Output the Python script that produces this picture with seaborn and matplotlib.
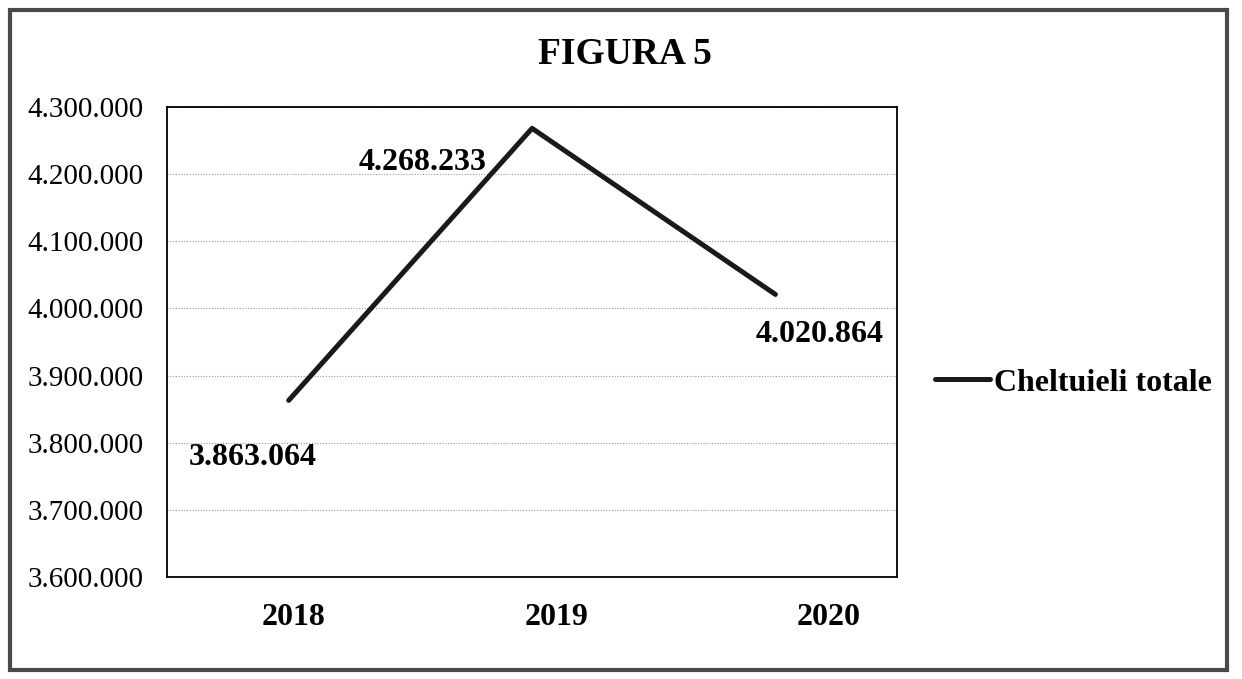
import matplotlib
matplotlib.use("Agg")
import matplotlib.pyplot as plt
import matplotlib.transforms as mtransforms
import seaborn as sns
import pandas as pd
from matplotlib.ticker import FuncFormatter, MultipleLocator
from matplotlib.patches import Rectangle

# Data
years = ["2018", "2019", "2020"]
cheltuieli = [3863064, 4268233, 4020864]
series_name = "Cheltuieli totale"

df = pd.DataFrame({"an": years, "valoare": cheltuieli})

sns.set_theme(style="white")
plt.rcParams["font.family"] = ["Liberation Serif", "DejaVu Serif"]
plt.rcParams["text.color"] = "black"

fig = plt.figure(figsize=(12.42, 6.79), dpi=100)
ax = fig.add_axes([0.1345, 0.1502, 0.5878, 0.6922])

sns.lineplot(data=df, x="an", y="valoare", ax=ax, color="#1a1a1a",
             linewidth=3.6, sort=False, label=series_name, legend=False)

ax.set_xlim(-0.5, 2.5)
ax.set_ylim(3600000, 4300000)
ax.yaxis.set_major_locator(MultipleLocator(100000))
ax.yaxis.set_major_formatter(FuncFormatter(lambda v, p: f"{v:,.0f}".replace(",", ".")))
ax.grid(axis="y", color="#999999", linestyle=(0, (1, 1.5)), linewidth=0.8)
ax.set_axisbelow(True)
ax.set_xlabel("")
ax.set_ylabel("")

for s in ax.spines.values():
    s.set_color("black")
    s.set_linewidth(1.3)

ax.tick_params(axis="y", length=0, pad=17, labelsize=21, labelcolor="black")
ax.tick_params(axis="x", length=0, pad=19, labelsize=23, labelcolor="black")

# the scanned year labels sit a bit right of their points
label_shift = [5, 24, 53]
for t, dx in zip(ax.get_xticklabels(), label_shift):
    t.set_fontweight("bold")
    t.set_transform(t.get_transform() + mtransforms.ScaledTranslation(dx / 100, 0, fig.dpi_scale_trans))

# data labels
offsets = [(-36, -57), (-109, -34), (44, -40)]
for i, (v, off) in enumerate(zip(cheltuieli, offsets)):
    ax.annotate(f"{v:,.0f}".replace(",", "."), (i, v), xytext=off,
                textcoords="offset pixels", ha="center", va="center",
                fontsize=23, fontweight="bold", color="black")

fig.text(0.503, 0.919, "FIGURA 5", ha="center", va="center",
         fontsize=27, fontweight="bold", color="black")

# legend at the right
leg = ax.legend(loc="center left", bbox_to_anchor=(0.753, 0.436),
                bbox_transform=fig.transFigure, frameon=False,
                prop={"size": 23, "weight": "bold"}, handlelength=1.7,
                handletextpad=0.15, borderaxespad=0, borderpad=0)
for t in leg.get_texts():
    t.set_color("black")

# outer chart border
fig.patches.append(Rectangle((0.008, 0.013), 0.98, 0.972, transform=fig.transFigure,
                             fill=False, edgecolor="#4a4a4a", linewidth=3))

fig.savefig("out.png", dpi=100)
